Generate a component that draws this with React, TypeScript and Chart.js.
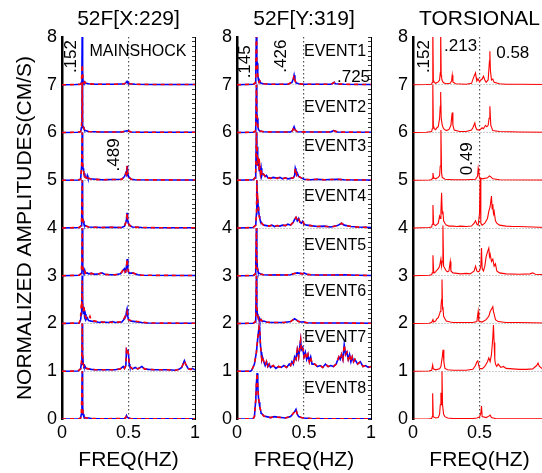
import React, { useEffect, useRef } from "react";
import { Chart, registerables } from "chart.js";

Chart.register(...registerables);

type Pt = [number, number];

const FONT = '"Liberation Sans", Arial, Helvetica, sans-serif';

const PANEL_TITLES = ["52F[X:229]", "52F[Y:319]", "TORSIONAL"];
const Y_TITLE = "NORMALIZED AMPLITUDES(CM/S)";
const X_TITLE = "FREQ(HZ)";
const X_TICK_LABELS = ["0", "0.5", "1"];
const Y_TICK_LABELS = ["0", "1", "2", "3", "4", "5", "6", "7", "8"];
const OFFSETS = [7, 6, 5, 4, 3, 2, 1, 0];

// ---------- Panel 1: 52F[X:229] (frequency, normalized amplitude) ----------
const X7: Pt[] = [[0,0],[0.1,0.005],[0.14,0.01],[0.146,0.05],[0.15,0.35],[0.152,1.15],[0.155,0.3],[0.158,0.08],[0.165,0.04],[0.17,0.06],[0.18,0.03],[0.2,0.02],[0.25,0.01],[0.3,0.01],[0.4,0.01],[0.47,0.02],[0.48,0.04],[0.489,0.07],[0.495,0.04],[0.51,0.02],[0.55,0.01],[0.7,0.005],[1,0.005]];
const XR7: Pt[] = [[0,0],[0.1,0.005],[0.14,0.01],[0.146,0.05],[0.15,0.3],[0.152,0.42],[0.155,0.25],[0.158,0.08],[0.165,0.04],[0.17,0.06],[0.18,0.03],[0.2,0.02],[0.25,0.01],[0.3,0.01],[0.4,0.01],[0.47,0.02],[0.48,0.04],[0.489,0.06],[0.495,0.04],[0.51,0.02],[0.55,0.01],[0.7,0.005],[1,0.005]];
const X6: Pt[] = [[0,0],[0.12,0.005],[0.14,0.02],[0.146,0.1],[0.15,0.35],[0.152,1.05],[0.155,0.15],[0.16,0.12],[0.165,0.08],[0.175,0.04],[0.2,0.02],[0.3,0.01],[0.45,0.01],[0.48,0.03],[0.49,0.035],[0.5,0.03],[0.52,0.01],[0.6,0.005],[1,0.005]];
const X5: Pt[] = [[0,0],[0.12,0.005],[0.14,0.02],[0.148,0.3],[0.152,1.0],[0.155,0.35],[0.158,0.25],[0.162,0.2],[0.166,0.12],[0.17,0.15],[0.175,0.06],[0.185,0.05],[0.19,0.1],[0.195,0.05],[0.21,0.03],[0.25,0.02],[0.3,0.01],[0.45,0.02],[0.47,0.08],[0.48,0.15],[0.485,0.12],[0.489,0.3],[0.492,0.2],[0.497,0.1],[0.505,0.06],[0.52,0.02],[0.55,0.01],[1,0.005]];
const X4: Pt[] = [[0,0],[0.13,0.01],[0.145,0.05],[0.148,0.2],[0.152,1.0],[0.155,0.25],[0.158,0.15],[0.165,0.08],[0.17,0.06],[0.18,0.04],[0.2,0.02],[0.3,0.01],[0.35,0.015],[0.45,0.01],[0.47,0.04],[0.48,0.12],[0.485,0.18],[0.489,0.32],[0.493,0.18],[0.498,0.1],[0.505,0.07],[0.515,0.04],[0.53,0.02],[0.6,0.01],[0.8,0.005],[1,0.005]];
const X3: Pt[] = [[0,0],[0.13,0.01],[0.145,0.05],[0.15,0.4],[0.152,1.0],[0.156,0.2],[0.16,0.12],[0.165,0.08],[0.17,0.12],[0.175,0.05],[0.19,0.06],[0.2,0.04],[0.22,0.05],[0.25,0.03],[0.28,0.04],[0.3,0.06],[0.32,0.03],[0.36,0.02],[0.4,0.02],[0.44,0.04],[0.46,0.12],[0.47,0.15],[0.475,0.08],[0.48,0.1],[0.485,0.2],[0.49,0.35],[0.495,0.15],[0.5,0.08],[0.51,0.05],[0.53,0.06],[0.55,0.04],[0.57,0.02],[0.6,0.01],[1,0.005]];
const X2: Pt[] = [[0,0],[0.13,0.01],[0.14,0.08],[0.145,0.2],[0.148,0.3],[0.152,1.0],[0.155,0.5],[0.158,0.3],[0.162,0.2],[0.165,0.35],[0.17,0.15],[0.175,0.2],[0.18,0.08],[0.19,0.12],[0.2,0.06],[0.22,0.05],[0.25,0.04],[0.28,0.02],[0.3,0.03],[0.35,0.02],[0.38,0.04],[0.4,0.02],[0.45,0.03],[0.47,0.1],[0.48,0.15],[0.485,0.25],[0.489,0.3],[0.495,0.15],[0.5,0.08],[0.52,0.05],[0.55,0.04],[0.6,0.02],[0.65,0.01],[1,0.005]];
const XR2: Pt[] = [[0,0],[0.13,0.01],[0.14,0.15],[0.145,0.4],[0.148,0.35],[0.152,0.9],[0.155,0.35],[0.158,0.25],[0.162,0.3],[0.165,0.38],[0.17,0.2],[0.175,0.15],[0.18,0.12],[0.19,0.1],[0.2,0.08],[0.21,0.15],[0.22,0.06],[0.25,0.05],[0.28,0.03],[0.3,0.03],[0.35,0.02],[0.38,0.03],[0.4,0.02],[0.45,0.04],[0.47,0.12],[0.48,0.2],[0.485,0.22],[0.489,0.25],[0.495,0.12],[0.5,0.08],[0.52,0.06],[0.55,0.05],[0.6,0.03],[0.65,0.01],[1,0.005]];
const X1: Pt[] = [[0,0],[0.12,0.005],[0.14,0.05],[0.145,0.15],[0.15,0.4],[0.152,1.0],[0.155,0.35],[0.16,0.15],[0.165,0.1],[0.17,0.12],[0.18,0.06],[0.2,0.05],[0.22,0.04],[0.25,0.03],[0.3,0.03],[0.35,0.03],[0.4,0.03],[0.44,0.05],[0.46,0.1],[0.47,0.06],[0.48,0.12],[0.485,0.45],[0.49,0.42],[0.495,0.45],[0.5,0.35],[0.505,0.15],[0.51,0.1],[0.53,0.05],[0.55,0.08],[0.57,0.05],[0.6,0.1],[0.62,0.05],[0.65,0.04],[0.7,0.03],[0.8,0.03],[0.85,0.02],[0.88,0.04],[0.9,0.08],[0.92,0.22],[0.93,0.15],[0.95,0.05],[0.97,0.04],[0.98,0.06],[1,0.03]];
const X0: Pt[] = [[0,0],[0.13,0.005],[0.14,0.02],[0.145,0.1],[0.15,0.6],[0.152,1.0],[0.155,0.3],[0.158,0.1],[0.165,0.04],[0.18,0.02],[0.2,0.02],[0.22,0.01],[0.3,0.005],[0.47,0.01],[0.48,0.03],[0.485,0.07],[0.49,0.04],[0.5,0.02],[0.52,0.005],[1,0.003]];

// ---------- Panel 2: 52F[Y:319] ----------
const Y7: Pt[] = [[0,0],[0.12,0.01],[0.135,0.03],[0.14,0.15],[0.145,1.2],[0.148,0.5],[0.152,0.45],[0.155,0.2],[0.16,0.1],[0.165,0.05],[0.17,0.08],[0.18,0.03],[0.2,0.02],[0.25,0.01],[0.3,0.01],[0.38,0.01],[0.41,0.05],[0.42,0.12],[0.426,0.2],[0.432,0.1],[0.44,0.04],[0.46,0.02],[0.5,0.01],[0.6,0.01],[0.7,0.01],[0.715,0.03],[0.725,0.05],[0.735,0.02],[0.8,0.01],[1,0.005]];
const Y6: Pt[] = [[0,0],[0.12,0.005],[0.135,0.02],[0.14,0.1],[0.145,1.0],[0.148,0.4],[0.152,0.3],[0.156,0.12],[0.16,0.06],[0.17,0.03],[0.2,0.015],[0.3,0.01],[0.4,0.01],[0.415,0.04],[0.426,0.12],[0.435,0.05],[0.45,0.015],[0.6,0.01],[0.7,0.01],[0.72,0.04],[0.73,0.03],[0.75,0.01],[1,0.005]];
const Y5: Pt[] = [[0,0],[0.12,0.01],[0.135,0.05],[0.14,0.2],[0.145,1.0],[0.148,0.6],[0.15,0.7],[0.153,0.3],[0.156,0.5],[0.16,0.35],[0.163,0.45],[0.166,0.2],[0.17,0.3],[0.175,0.15],[0.18,0.25],[0.185,0.1],[0.19,0.15],[0.2,0.12],[0.21,0.08],[0.22,0.1],[0.23,0.05],[0.25,0.04],[0.27,0.06],[0.3,0.04],[0.32,0.06],[0.34,0.03],[0.36,0.05],[0.38,0.03],[0.4,0.04],[0.42,0.05],[0.43,0.1],[0.435,0.25],[0.44,0.2],[0.445,0.12],[0.45,0.15],[0.46,0.08],[0.48,0.05],[0.5,0.02],[0.55,0.01],[0.6,0.02],[0.65,0.01],[0.75,0.02],[0.8,0.01],[1,0.005]];
const Y4: Pt[] = [[0,0],[0.12,0.01],[0.14,0.06],[0.145,0.3],[0.148,1.0],[0.152,0.55],[0.155,0.6],[0.158,0.45],[0.162,0.35],[0.166,0.25],[0.17,0.2],[0.175,0.15],[0.18,0.12],[0.19,0.08],[0.2,0.06],[0.22,0.05],[0.24,0.04],[0.26,0.06],[0.28,0.03],[0.3,0.05],[0.32,0.04],[0.34,0.06],[0.36,0.05],[0.38,0.08],[0.4,0.06],[0.42,0.12],[0.43,0.18],[0.44,0.22],[0.45,0.15],[0.46,0.2],[0.47,0.12],[0.48,0.1],[0.49,0.14],[0.5,0.08],[0.52,0.06],[0.55,0.05],[0.6,0.03],[0.65,0.04],[0.7,0.02],[0.75,0.05],[0.78,0.1],[0.8,0.06],[0.85,0.03],[0.9,0.02],[1,0.01]];
const Y3: Pt[] = [[0,0],[0.12,0.005],[0.135,0.03],[0.14,0.15],[0.145,1.0],[0.148,0.4],[0.152,0.15],[0.156,0.1],[0.16,0.06],[0.17,0.05],[0.18,0.03],[0.2,0.02],[0.25,0.015],[0.3,0.02],[0.35,0.015],[0.4,0.02],[0.42,0.04],[0.45,0.06],[0.47,0.05],[0.49,0.04],[0.5,0.06],[0.52,0.03],[0.55,0.02],[0.6,0.015],[0.7,0.015],[0.8,0.02],[0.9,0.01],[1,0.005]];
const Y2: Pt[] = [[0,0],[0.12,0.005],[0.135,0.03],[0.14,0.1],[0.145,1.0],[0.148,0.35],[0.152,0.2],[0.156,0.15],[0.16,0.1],[0.165,0.12],[0.17,0.06],[0.18,0.08],[0.19,0.04],[0.2,0.05],[0.22,0.03],[0.25,0.02],[0.3,0.02],[0.35,0.02],[0.4,0.04],[0.42,0.08],[0.43,0.1],[0.44,0.08],[0.45,0.06],[0.46,0.04],[0.48,0.03],[0.5,0.03],[0.52,0.015],[0.6,0.01],[0.8,0.01],[1,0.005]];
const Y1: Pt[] = [[0,0],[0.1,0],[0.11,0.02],[0.13,0.15],[0.145,0.4],[0.155,0.7],[0.165,0.93],[0.17,0.85],[0.175,0.55],[0.18,0.4],[0.185,0.25],[0.19,0.3],[0.2,0.2],[0.21,0.12],[0.22,0.2],[0.23,0.1],[0.24,0.15],[0.25,0.08],[0.27,0.12],[0.29,0.06],[0.31,0.1],[0.33,0.08],[0.35,0.12],[0.37,0.08],[0.39,0.15],[0.4,0.12],[0.41,0.2],[0.42,0.15],[0.43,0.3],[0.44,0.25],[0.45,0.45],[0.46,0.3],[0.47,0.55],[0.475,0.65],[0.48,0.45],[0.49,0.5],[0.5,0.3],[0.51,0.4],[0.52,0.25],[0.53,0.35],[0.54,0.2],[0.55,0.3],[0.56,0.15],[0.58,0.15],[0.6,0.1],[0.62,0.12],[0.64,0.08],[0.66,0.15],[0.68,0.1],[0.7,0.12],[0.72,0.1],[0.74,0.15],[0.76,0.3],[0.77,0.25],[0.78,0.35],[0.79,0.25],[0.8,0.55],[0.81,0.35],[0.82,0.4],[0.83,0.25],[0.84,0.35],[0.85,0.2],[0.86,0.3],[0.87,0.2],[0.88,0.25],[0.9,0.15],[0.92,0.2],[0.94,0.1],[0.96,0.12],[0.98,0.08],[1,0.1]];
const Y0: Pt[] = [[0,0],[0.12,0.005],[0.13,0.05],[0.14,0.4],[0.145,0.75],[0.15,0.96],[0.155,0.7],[0.16,0.45],[0.165,0.35],[0.17,0.25],[0.175,0.2],[0.18,0.12],[0.19,0.1],[0.2,0.06],[0.22,0.05],[0.25,0.03],[0.28,0.05],[0.3,0.04],[0.33,0.03],[0.36,0.02],[0.4,0.05],[0.42,0.12],[0.43,0.15],[0.44,0.2],[0.45,0.1],[0.46,0.05],[0.48,0.03],[0.5,0.02],[0.55,0.01],[0.7,0.005],[1,0.003]];

// ---------- Panel 3: TORSIONAL ----------
const T7: Pt[] = [[0,0],[0.1,0.005],[0.14,0.01],[0.145,0.05],[0.148,0.3],[0.15,1.2],[0.153,0.1],[0.16,0.05],[0.17,0.03],[0.19,0.06],[0.2,0.1],[0.205,0.25],[0.208,1.2],[0.212,0.2],[0.215,0.15],[0.22,0.08],[0.23,0.04],[0.25,0.02],[0.28,0.03],[0.29,0.08],[0.295,0.2],[0.3,0.06],[0.32,0.02],[0.4,0.01],[0.44,0.03],[0.455,0.15],[0.47,0.25],[0.475,0.15],[0.48,0.08],[0.49,0.12],[0.5,0.06],[0.51,0.1],[0.52,0.12],[0.53,0.18],[0.54,0.1],[0.55,0.05],[0.565,0.1],[0.575,0.5],[0.578,0.7],[0.582,0.3],[0.59,0.1],[0.6,0.12],[0.61,0.05],[0.65,0.02],[0.7,0.01],[0.8,0.01],[1,0.005]];
const T6: Pt[] = [[0,0],[0.1,0.005],[0.14,0.02],[0.145,0.08],[0.148,0.4],[0.15,1.0],[0.153,0.15],[0.16,0.08],[0.17,0.06],[0.18,0.1],[0.19,0.12],[0.2,0.3],[0.205,0.55],[0.208,0.85],[0.212,0.3],[0.22,0.15],[0.23,0.08],[0.25,0.04],[0.27,0.06],[0.285,0.15],[0.29,0.3],[0.295,0.42],[0.3,0.15],[0.31,0.05],[0.35,0.02],[0.4,0.02],[0.44,0.05],[0.45,0.1],[0.465,0.2],[0.47,0.12],[0.48,0.06],[0.5,0.05],[0.52,0.1],[0.53,0.08],[0.545,0.15],[0.555,0.12],[0.565,0.15],[0.572,0.3],[0.578,0.55],[0.585,0.15],[0.6,0.04],[0.65,0.02],[0.8,0.01],[1,0.005]];
const T5: Pt[] = [[0,0],[0.12,0.005],[0.14,0.01],[0.145,0.04],[0.15,0.15],[0.155,0.05],[0.17,0.03],[0.19,0.06],[0.2,0.1],[0.205,0.3],[0.21,1.05],[0.215,0.15],[0.22,0.06],[0.24,0.02],[0.3,0.01],[0.4,0.01],[0.47,0.02],[0.485,0.08],[0.49,0.25],[0.495,0.15],[0.5,0.05],[0.52,0.03],[0.56,0.05],[0.575,0.09],[0.585,0.07],[0.6,0.03],[0.65,0.01],[1,0.005]];
const T4: Pt[] = [[0,0],[0.12,0.01],[0.14,0.02],[0.145,0.08],[0.15,0.48],[0.155,0.08],[0.17,0.05],[0.19,0.1],[0.2,0.25],[0.205,0.2],[0.21,0.35],[0.215,0.74],[0.22,0.3],[0.225,0.35],[0.23,0.15],[0.24,0.1],[0.25,0.06],[0.27,0.04],[0.3,0.04],[0.33,0.03],[0.36,0.04],[0.4,0.03],[0.44,0.04],[0.46,0.1],[0.47,0.15],[0.48,0.08],[0.49,0.06],[0.5,0.3],[0.505,1.05],[0.51,0.1],[0.52,0.06],[0.54,0.1],[0.56,0.2],[0.57,0.35],[0.58,0.45],[0.59,0.67],[0.595,0.4],[0.6,0.5],[0.605,0.3],[0.61,0.35],[0.62,0.15],[0.63,0.1],[0.65,0.06],[0.7,0.04],[0.75,0.03],[0.8,0.03],[0.9,0.02],[1,0.01]];
const T3: Pt[] = [[0,0],[0.12,0.01],[0.14,0.02],[0.145,0.06],[0.15,0.43],[0.155,0.1],[0.16,0.06],[0.17,0.08],[0.18,0.12],[0.19,0.15],[0.2,0.2],[0.21,0.35],[0.215,0.2],[0.22,0.3],[0.225,1.05],[0.23,0.2],[0.24,0.15],[0.25,0.1],[0.26,0.08],[0.27,0.1],[0.28,0.3],[0.285,0.1],[0.3,0.06],[0.33,0.05],[0.36,0.04],[0.4,0.05],[0.43,0.04],[0.46,0.1],[0.47,0.2],[0.48,0.1],[0.49,0.08],[0.5,0.1],[0.51,0.2],[0.515,0.58],[0.52,0.15],[0.53,0.1],[0.54,0.2],[0.55,0.4],[0.56,0.5],[0.57,0.58],[0.575,0.4],[0.58,0.45],[0.59,0.3],[0.6,0.35],[0.61,0.2],[0.62,0.25],[0.63,0.1],[0.65,0.06],[0.7,0.04],[0.8,0.03],[0.88,0.04],[0.9,0.06],[0.92,0.03],[1,0.02]];
const T2: Pt[] = [[0,0],[0.12,0.005],[0.14,0.02],[0.15,0.08],[0.155,0.03],[0.17,0.05],[0.18,0.1],[0.19,0.12],[0.2,0.2],[0.205,0.25],[0.21,0.35],[0.215,0.5],[0.218,0.92],[0.222,0.3],[0.225,0.35],[0.23,0.15],[0.24,0.1],[0.25,0.05],[0.28,0.03],[0.3,0.02],[0.35,0.02],[0.4,0.02],[0.45,0.02],[0.48,0.04],[0.49,0.25],[0.495,0.05],[0.52,0.03],[0.55,0.08],[0.57,0.15],[0.58,0.25],[0.59,0.3],[0.6,0.35],[0.605,0.25],[0.61,0.2],[0.62,0.08],[0.64,0.04],[0.7,0.02],[0.8,0.02],[1,0.01]];
const T1: Pt[] = [[0,0],[0.12,0.005],[0.14,0.02],[0.148,0.13],[0.152,0.05],[0.17,0.03],[0.2,0.05],[0.21,0.1],[0.22,0.3],[0.226,0.45],[0.232,0.2],[0.24,0.06],[0.26,0.03],[0.3,0.02],[0.4,0.02],[0.45,0.04],[0.47,0.12],[0.48,0.2],[0.487,0.22],[0.495,0.12],[0.5,0.06],[0.52,0.05],[0.54,0.1],[0.56,0.2],[0.57,0.28],[0.58,0.2],[0.59,0.35],[0.6,0.7],[0.605,0.97],[0.61,0.6],[0.615,0.25],[0.62,0.15],[0.63,0.1],[0.64,0.15],[0.66,0.08],[0.68,0.1],[0.7,0.06],[0.75,0.05],[0.8,0.04],[0.85,0.04],[0.9,0.05],[0.93,0.12],[0.94,0.17],[0.95,0.1],[0.97,0.06],[1,0.05]];
const T0: Pt[] = [[0,0],[0.12,0.005],[0.14,0.01],[0.145,0.05],[0.148,0.54],[0.152,0.05],[0.17,0.02],[0.19,0.03],[0.2,0.1],[0.205,0.3],[0.21,0.55],[0.213,0.3],[0.218,1.0],[0.222,0.3],[0.23,0.1],[0.24,0.05],[0.26,0.02],[0.3,0.01],[0.45,0.01],[0.48,0.02],[0.5,0.04],[0.51,0.12],[0.515,0.27],[0.52,0.05],[0.55,0.03],[0.57,0.06],[0.58,0.08],[0.59,0.03],[0.62,0.01],[1,0.005]];

const X_BLUE = [X7, X6, X5, X4, X3, X2, X1, X0];
const X_RED = [XR7, X6, X5, X4, X3, XR2, X1, X0];
const Y_BLUE = [Y7, Y6, Y5, Y4, Y3, Y2, Y1, Y0];
const Y_RED = [Y7, Y6, Y5, Y4, Y3, Y2, Y1, Y0];
const T_RED = [T7, T6, T5, T4, T3, T2, T1, T0];

// ---------- text annotations ----------
const EVENT_LABELS = ["EVENT1", "EVENT2", "EVENT3", "EVENT4", "EVENT5", "EVENT6", "EVENT7", "EVENT8"];
const EVENT_LABEL_Y = [7.69, 6.53, 5.7, 4.66, 3.64, 2.67, 1.71, 0.64];

type Ann = { text: string; x: number; y: number; rot?: boolean; align?: CanvasTextAlign; size: number };

const ANN_X: Ann[] = [
  { text: ".152", x: 0.071, y: 7.59, rot: true, size: 17 },
  { text: "MAINSHOCK", x: 0.571, y: 7.69, size: 16 },
  { text: ".489", x: 0.39, y: 5.53, rot: true, size: 17 },
];
const ANN_Y: Ann[] = [
  { text: ".145", x: 0.063, y: 7.48, rot: true, size: 17 },
  { text: ".426", x: 0.332, y: 7.6, rot: true, size: 17 },
  { text: ".725", x: 0.746, y: 7.16, align: "left", size: 17 },
  ...EVENT_LABELS.map((t, i) => ({ text: t, x: 0.5, y: EVENT_LABEL_Y[i], align: "left" as CanvasTextAlign, size: 16 })),
];
const ANN_T: Ann[] = [
  { text: ".152", x: 0.084, y: 7.59, rot: true, size: 17 },
  { text: ".213", x: 0.358, y: 7.8, size: 17 },
  { text: "0.58", x: 0.75, y: 7.66, size: 17 },
  { text: "0.49", x: 0.41, y: 5.45, rot: true, size: 17 },
];

function traceData(pts: Pt[], off: number) {
  return pts.map(([f, a]) => ({ x: f, y: a + off }));
}

const textPlugin = {
  id: "panelText",
  afterDatasetsDraw(chart: any, _args: any, opts: any) {
    const { ctx, chartArea, scales } = chart;
    ctx.save();
    ctx.fillStyle = "#000";
    ctx.textAlign = "center";
    ctx.textBaseline = "middle";
    ctx.font = `21px ${FONT}`;
    ctx.fillText(opts.title, (chartArea.left + chartArea.right) / 2, 19.5);
    for (const a of opts.items as Ann[]) {
      const px = scales.x.getPixelForValue(a.x);
      const py = scales.y.getPixelForValue(a.y);
      ctx.save();
      ctx.font = `${a.size}px ${FONT}`;
      ctx.translate(px, py);
      if (a.rot) ctx.rotate(-Math.PI / 2);
      ctx.textAlign = a.align || "center";
      ctx.textBaseline = "middle";
      ctx.fillText(a.text, 0, 0);
      ctx.restore();
    }
    ctx.restore();
  },
};

function makeConfig(title: string, yWidth: number, showYTitle: boolean, datasets: any[], items: Ann[]): any {
  return {
    type: "line",
    data: { datasets },
    plugins: [textPlugin],
    options: {
      responsive: false,
      animation: false,
      layout: { padding: { top: 37, right: 10, left: 0, bottom: 0 } },
      elements: { point: { radius: 0 }, line: { tension: 0 } },
      plugins: {
        legend: { display: false },
        tooltip: { enabled: false },
        panelText: { title, items },
      },
      scales: {
        x: {
          type: "linear",
          min: 0,
          max: 1,
          ticks: {
            stepSize: 0.5,
            padding: 3,
            maxRotation: 0,
            color: "#000",
            font: { size: 18, family: FONT },
            callback: (_v: any, i: number) => X_TICK_LABELS[i],
          },
          grid: {
            drawTicks: false,
            lineWidth: 1.2,
            color: (c: any) => (c.tick && Math.abs(c.tick.value - 0.5) < 1e-6 ? "#555" : "rgba(0,0,0,0)"),
          },
          border: { display: false, dash: [1.5, 2.5] },
          title: { display: true, text: X_TITLE, color: "#000", font: { size: 21, family: FONT }, padding: { top: 0, bottom: 0 } },
          afterFit: (s: any) => { s.height = 54; },
        },
        y: {
          type: "linear",
          position: "left",
          min: 0,
          max: 8,
          ticks: {
            stepSize: 1,
            padding: 5,
            color: "#000",
            font: { size: 18, family: FONT },
            callback: (_v: any, i: number) => Y_TICK_LABELS[i],
          },
          grid: {
            drawTicks: false,
            lineWidth: 1,
            color: (c: any) => (c.tick && c.tick.value >= 1 && c.tick.value <= 7 ? "#999" : "rgba(0,0,0,0)"),
          },
          border: { display: true, color: "#000", width: 2.5, dash: [1, 2] },
          title: {
            display: showYTitle,
            text: Y_TITLE,
            color: "#000",
            font: { size: 21, family: FONT },
            padding: { top: 13, bottom: 0 },
          },
          afterFit: (s: any) => { s.width = yWidth; },
        },
        y2: {
          type: "linear",
          position: "right",
          min: 0,
          max: 8,
          ticks: { display: false, stepSize: 0.1 },
          grid: { drawOnChartArea: false, drawTicks: true, tickLength: -3, color: "#000", tickColor: "#000", tickWidth: 0.8 },
          border: { display: true, color: "#000", width: 1 },
          afterFit: (s: any) => { s.width = 0; },
        },
      },
    },
  };
}

function pairDatasets(blue: Pt[][], red: Pt[][]) {
  const out: any[] = [];
  OFFSETS.forEach((off, i) => {
    // red dashed drawn on top (earlier datasets render last)
    out.push({
      data: traceData(red[i], off),
      borderColor: "#ff0000",
      borderWidth: 1.6,
      borderDash: [4, 4],
      pointRadius: 0,
      fill: false,
    });
  });
  OFFSETS.forEach((off, i) => {
    out.push({
      data: traceData(blue[i], off),
      borderColor: "#0000ff",
      borderWidth: 1.6,
      pointRadius: 0,
      fill: false,
    });
  });
  return out;
}

function singleDatasets(red: Pt[][]) {
  return OFFSETS.map((off, i) => ({
    data: traceData(red[i], off),
    borderColor: "#ff0000",
    borderWidth: 1.1,
    pointRadius: 0,
    fill: false,
  }));
}

export default function App() {
  const r1 = useRef<HTMLCanvasElement>(null);
  const r2 = useRef<HTMLCanvasElement>(null);
  const r3 = useRef<HTMLCanvasElement>(null);

  useEffect(() => {
    Chart.defaults.font.family = FONT;
    const c1 = new Chart(r1.current as any, makeConfig(PANEL_TITLES[0], 62, true, pairDatasets(X_BLUE, X_RED), ANN_X));
    const c2 = new Chart(r2.current as any, makeConfig(PANEL_TITLES[1], 32, false, pairDatasets(Y_BLUE, Y_RED), ANN_Y));
    const c3 = new Chart(r3.current as any, makeConfig(PANEL_TITLES[2], 32, false, singleDatasets(T_RED), ANN_T));
    return () => {
      c1.destroy();
      c2.destroy();
      c3.destroy();
    };
  }, []);

  const cv = (left: number, width: number): React.CSSProperties => ({
    position: "absolute",
    left,
    top: 0,
    width,
    height: 473,
    display: "block",
  });

  return (
    <div style={{ position: "absolute", left: 0, top: 0, width: 542, height: 473, overflow: "hidden", background: "#fff" }}>
      <canvas ref={r1} width={205} height={473} style={cv(0, 205)} />
      <canvas ref={r2} width={176} height={473} style={cv(205, 176)} />
      <canvas ref={r3} width={175} height={473} style={cv(381, 175)} />
    </div>
  );
}
